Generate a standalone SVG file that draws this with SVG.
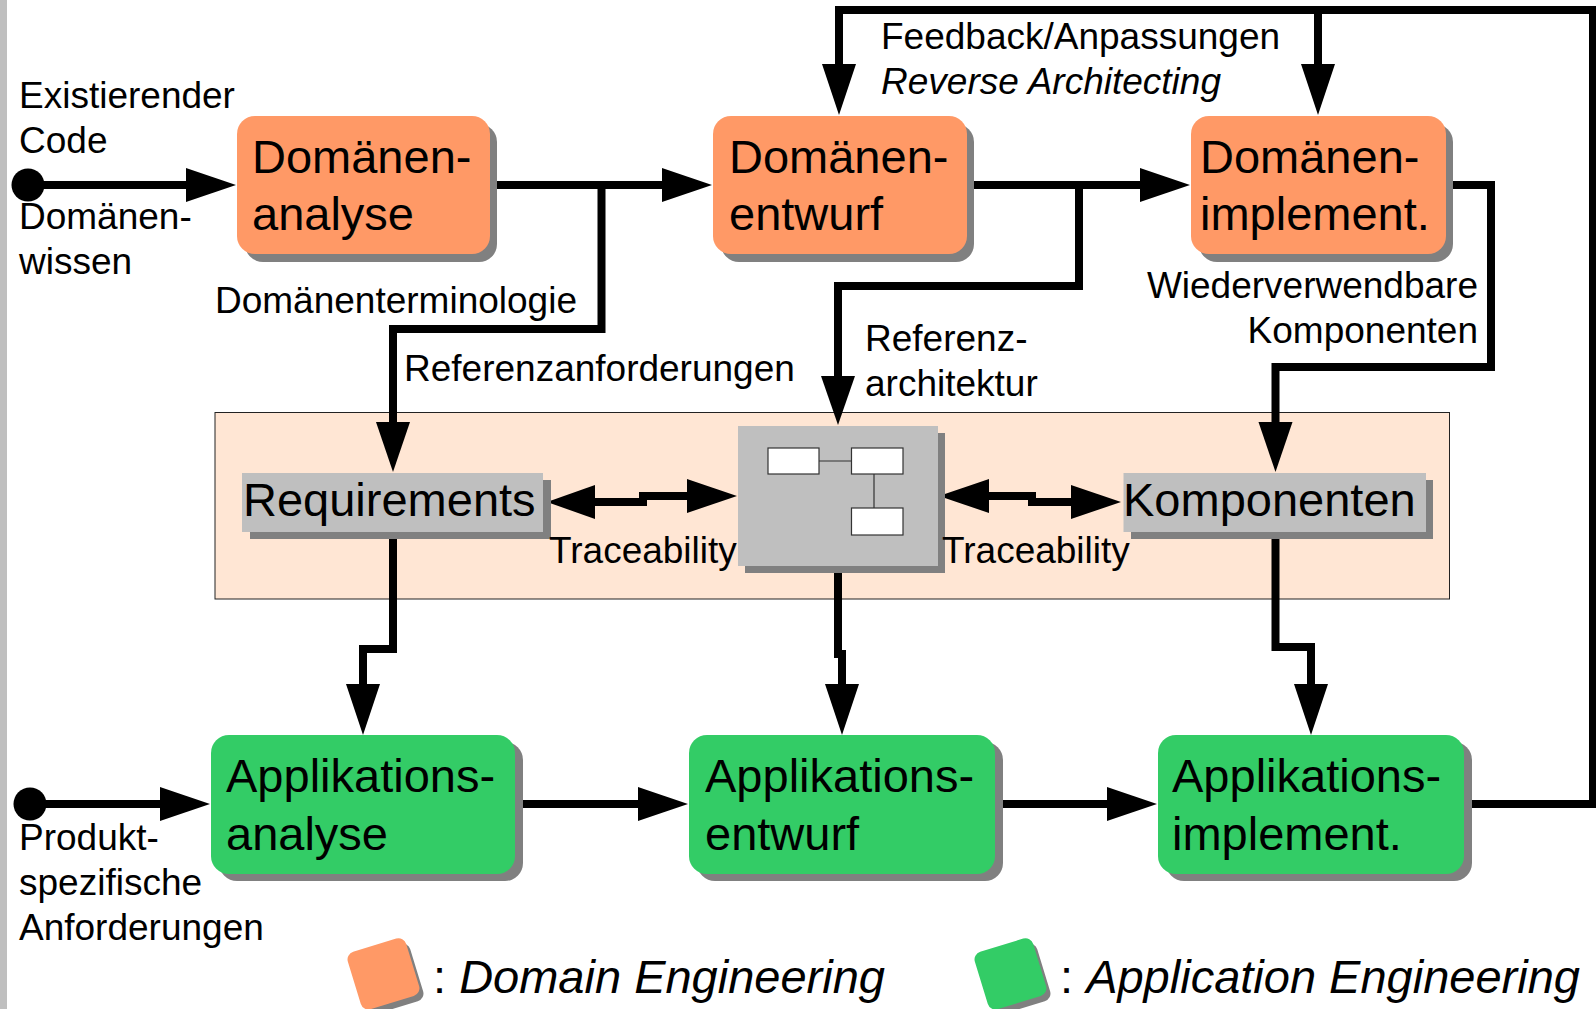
<svg xmlns="http://www.w3.org/2000/svg" width="1596" height="1009" viewBox="0 0 1596 1009">
<style>
text{font-family:"Liberation Sans",Arial,sans-serif;fill:#000}
.s{font-size:37px}.b{font-size:47px}.i{font-style:italic}
.sh{fill:#808080}.dom{fill:#ff9966}.app{fill:#33cc66}.gr{fill:#bfbfbf}
.w{fill:#fff;stroke:#333;stroke-width:1.2}
.c{fill:none;stroke:#000;stroke-width:8;stroke-linejoin:miter}
.a{fill:#000}
</style>
<rect width="1596" height="1009" fill="#fff"/>
<rect x="0" y="0" width="7" height="1009" class="gr"/>
<rect id="panel" x="215" y="412.500" width="1234.500" height="186.500" fill="#ffe6d4" stroke="#222" stroke-width="1"/>
<g id="connectors">
<path class="c" d="M28 185H190"/>
<path class="c" d="M490 185H665"/>
<path class="c" d="M601.500 185V329H393V425"/>
<path class="c" d="M967 185H1142"/>
<path class="c" d="M1079 185V286H838V378"/>
<path class="c" d="M1446 185H1491V367H1275.500V425"/>
<path class="c" d="M1464 804H1593V10H839V66"/>
<path class="c" d="M1318 10V66"/>
<path class="c" d="M30 804H163"/>
<path class="c" d="M515 804H640"/>
<path class="c" d="M995 804H1110"/>
<path class="c" d="M393 532V649H363V686"/>
<path class="c" d="M838 566V654H842V686"/>
<path class="c" d="M1275.500 532V647H1311V686"/>
<path class="c" d="M595 502H643V496H690"/>
<path class="c" d="M989 496H1032V502H1073"/>
<path class="a" d="M186 168L236 185L186 202Z"/>
<path class="a" d="M662 168L712 185L662 202Z"/>
<path class="a" d="M1140 168L1190 185L1140 202Z"/>
<path class="a" d="M376 422H410L393 472Z"/>
<path class="a" d="M821 376H855L838 425Z"/>
<path class="a" d="M1258.500 422H1292.500L1275.500 472Z"/>
<path class="a" d="M822 64H856L839 115Z"/>
<path class="a" d="M1301 64H1335L1318 115Z"/>
<path class="a" d="M160 787L210 804L160 821Z"/>
<path class="a" d="M638 787L688 804L638 821Z"/>
<path class="a" d="M1107 787L1157 804L1107 821Z"/>
<path class="a" d="M346 684H380L363 735Z"/>
<path class="a" d="M825 684H859L842 735Z"/>
<path class="a" d="M1294 684H1328L1311 735Z"/>
<path class="a" d="M595 485L547 502L595 519Z"/>
<path class="a" d="M687 479L737 496L687 513Z"/>
<path class="a" d="M989 479L939 496L989 513Z"/>
<path class="a" d="M1071 485L1121 502L1071 519Z"/>
<circle class="a" cx="28" cy="185" r="16.500"/>
<circle class="a" cx="30" cy="804" r="16.500"/>
</g>
<g id="n1"><rect class="sh" x="245" y="124" width="252" height="138" rx="18"/><rect class="dom" x="237" y="116" width="253" height="138" rx="18"/><text class="b" x="252" y="173">Domänen-</text><text class="b" x="252" y="230">analyse</text></g>
<g id="n2"><rect class="sh" x="721" y="124" width="253" height="138" rx="18"/><rect class="dom" x="713" y="116" width="254" height="138" rx="18"/><text class="b" x="729" y="173">Domänen-</text><text class="b" x="729" y="230">entwurf</text></g>
<g id="n3"><rect class="sh" x="1199" y="124" width="254" height="138" rx="18"/><rect class="dom" x="1191" y="116" width="255" height="138" rx="18"/><text class="b" x="1200" y="173">Domänen-</text><text class="b" x="1200" y="230">implement.</text></g>
<g id="n4"><rect class="sh" x="250" y="480" width="301" height="59"/><rect class="gr" x="242" y="473" width="301" height="59"/><text class="b" x="243" y="516">Requirements</text></g>
<g id="n5"><rect class="sh" x="745" y="433" width="200" height="140"/><rect class="gr" x="738" y="426" width="200" height="140"/><path d="M819 461H851.500M874 474V508" stroke="#333" stroke-width="1.200"/><rect class="w" x="768" y="448" width="51" height="26"/><rect class="w" x="851.500" y="448" width="51.500" height="26"/><rect class="w" x="851.500" y="508" width="51.500" height="27"/></g>
<g id="n6"><rect class="sh" x="1131" y="480" width="302" height="59"/><rect class="gr" x="1123.500" y="473" width="302.500" height="59"/><text class="b" x="1123" y="516">Komponenten</text></g>
<g id="n7"><rect class="sh" x="219" y="742" width="304" height="139" rx="18"/><rect class="app" x="211" y="735" width="304" height="139" rx="18"/><text class="b" x="226" y="792">Applikations-</text><text class="b" x="226" y="850">analyse</text></g>
<g id="n8"><rect class="sh" x="697" y="742" width="306" height="139" rx="18"/><rect class="app" x="689" y="735" width="306" height="139" rx="18"/><text class="b" x="705" y="792">Applikations-</text><text class="b" x="705" y="850">entwurf</text></g>
<g id="n9"><rect class="sh" x="1166" y="742" width="306" height="139" rx="18"/><rect class="app" x="1158" y="735" width="306" height="139" rx="18"/><text class="b" x="1172" y="792">Applikations-</text><text class="b" x="1172" y="850">implement.</text></g>
<g id="labels">
<text class="s" x="19" y="108">Existierender</text>
<text class="s" x="19" y="153">Code</text>
<text class="s" x="19" y="229">Domänen-</text>
<text class="s" x="19" y="274">wissen</text>
<text class="s" x="215" y="313">Domänenterminologie</text>
<text class="s" x="404" y="381">Referenzanforderungen</text>
<text class="s" x="881" y="49">Feedback/Anpassungen</text>
<text class="s i" x="881" y="94">Reverse Architecting</text>
<text class="s" x="865" y="351">Referenz-</text>
<text class="s" x="865" y="396">architektur</text>
<text class="s" x="1478" y="298" text-anchor="end">Wiederverwendbare</text>
<text class="s" x="1478" y="343" text-anchor="end">Komponenten</text>
<text class="s" x="549" y="563">Traceability</text>
<text class="s" x="942" y="563">Traceability</text>
<text class="s" x="19" y="850">Produkt-</text>
<text class="s" x="19" y="895">spezifische</text>
<text class="s" x="19" y="940">Anforderungen</text>
</g>
<g id="legend1"><rect class="sh" x="358" y="949" width="60" height="60" rx="8" transform="rotate(-17 388 979)"/><rect class="dom" x="353" y="944" width="61" height="60" rx="8" transform="rotate(-17 383 974)"/><text class="b" x="433" y="993">: <tspan class="i">Domain Engineering</tspan></text></g>
<g id="legend2"><rect class="sh" x="985" y="949" width="60" height="60" rx="8" transform="rotate(-17 1015 979)"/><rect class="app" x="980" y="944" width="61" height="60" rx="8" transform="rotate(-17 1010 974)"/><text class="b" x="1060" y="993">: <tspan class="i">Application Engineering</tspan></text></g>
</svg>
